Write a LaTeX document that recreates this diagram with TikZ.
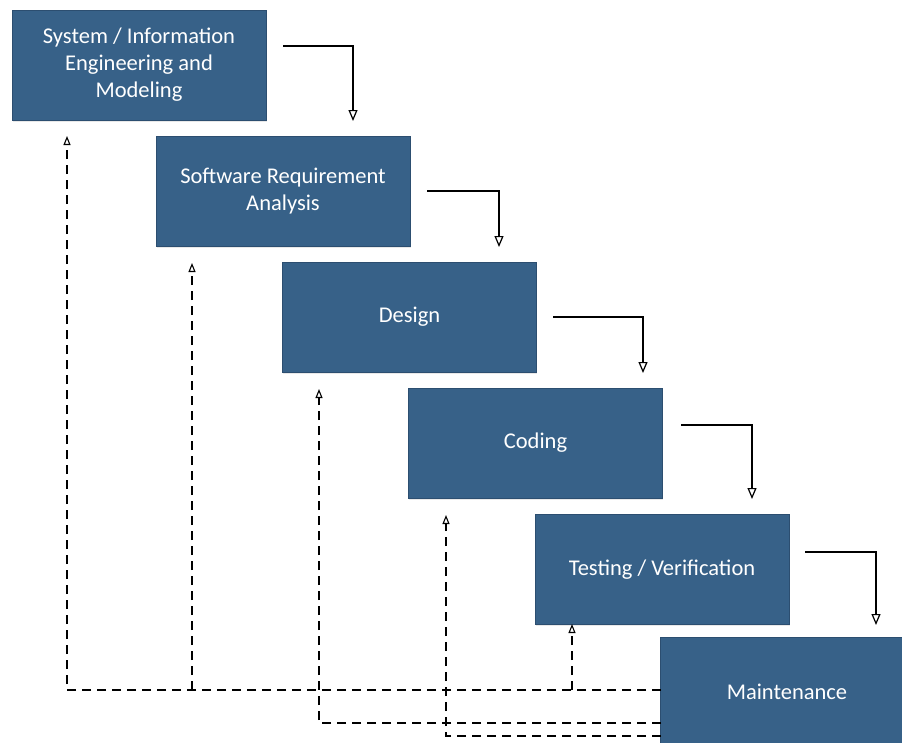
\documentclass[tikz,border=0pt]{standalone}
\usepackage{fontspec}
\setmainfont{Carlito}
\usetikzlibrary{arrows.meta,shadows}
\definecolor{phasefill}{RGB}{55,97,136}
\definecolor{phaseline}{RGB}{44,78,112}
\tikzset{
  phase/.style={draw=phaseline, line width=0.6pt, fill=phasefill, text=white,
    minimum width=254pt, minimum height=110pt, inner sep=0pt, align=center,
    font=\fontsize{22.5}{27}\selectfont,
    drop shadow={shadow xshift=0.8pt, shadow yshift=-1.6pt, opacity=0.18}},
  flow/.style={line width=1.4pt, -{Triangle[open,length=11pt,width=9pt,line width=1.2pt]}},
  back/.style={line width=1.4pt, dash pattern=on 9pt off 6pt,
    -{Triangle[open,length=9pt,width=7pt,line width=1.1pt]}}
}
\begin{document}
\begin{tikzpicture}[x=1pt,y=-1pt]
\useasboundingbox (0,0) rectangle (902,742);
\clip (0,0) rectangle (902,742);

% phases of the waterfall
\node[phase] (sys)  at (139,65)  {System / Information\\Engineering and\\Modeling};
\node[phase] (req)  at (283,191) {Software Requirement\\Analysis};
\node[phase] (des)  at (409.5,317) {Design};
\node[phase] (cod)  at (535.5,443) {Coding};
\node[phase] (tst)  at (662,569.5) {Testing / Verification};
\node[phase, minimum width=270pt, text width=254pt] (mnt) at (795,692) {\hspace*{-16pt}Maintenance};

% forward flow between phases
\coordinate (f1s) at (283,46);  \coordinate (f1e) at (353,121);
\coordinate (f2s) at (427,191); \coordinate (f2e) at (499,247);
\coordinate (f3s) at (553,317); \coordinate (f3e) at (643,373);
\coordinate (f4s) at (681,425); \coordinate (f4e) at (752,499);
\coordinate (f5s) at (805,552); \coordinate (f5e) at (876,625);
\draw[flow] (f1s) -| (f1e);
\draw[flow] (f2s) -| (f2e);
\draw[flow] (f3s) -| (f3e);
\draw[flow] (f4s) -| (f4e);
\draw[flow] (f5s) -| (f5e);

% feedback from maintenance
\coordinate (r1)  at (661,690);
\coordinate (r2)  at (661,723);
\coordinate (r3)  at (661,736);
\coordinate (t1)  at (67,136);
\coordinate (t2)  at (192,263);
\coordinate (t3)  at (319,389);
\coordinate (t4)  at (446,515);
\coordinate (t5)  at (572,624);
\draw[back] (r1) -| (t1);
\draw[back] (t2 |- r1) -- (t2);
\draw[back] (t5 |- r1) -- (t5);
\draw[back] (r2) -| (t3);
\draw[back] (r3) -| (t4);
\end{tikzpicture}
\end{document}
